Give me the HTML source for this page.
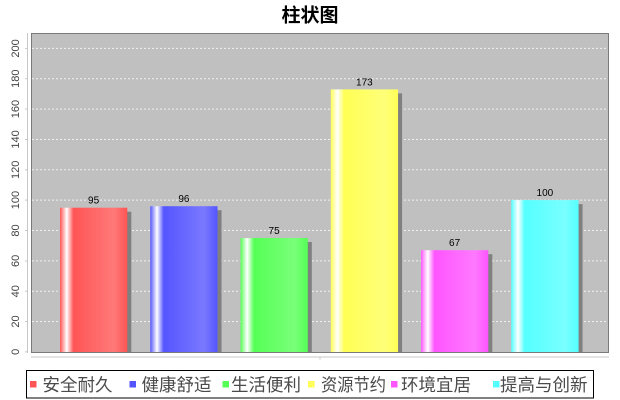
<!DOCTYPE html>
<html><head><meta charset="utf-8">
<style>
html,body{margin:0;padding:0;background:#fff;}
svg{display:block;}
</style></head>
<body>
<svg width="620" height="400" viewBox="0 0 620 400" xmlns="http://www.w3.org/2000/svg">
<defs>
<linearGradient id="g0" x1="0" x2="1" y1="0" y2="0"><stop offset="0" stop-color="#ff5555"/><stop offset="0.1" stop-color="#ffffff"/><stop offset="0.2" stop-color="#ff5555"/><stop offset="0.8" stop-color="#ff7979"/><stop offset="1" stop-color="#ff5555"/></linearGradient>
<linearGradient id="g1" x1="0" x2="1" y1="0" y2="0"><stop offset="0" stop-color="#5555ff"/><stop offset="0.1" stop-color="#ffffff"/><stop offset="0.2" stop-color="#5555ff"/><stop offset="0.8" stop-color="#7979ff"/><stop offset="1" stop-color="#5555ff"/></linearGradient>
<linearGradient id="g2" x1="0" x2="1" y1="0" y2="0"><stop offset="0" stop-color="#55ff55"/><stop offset="0.1" stop-color="#ffffff"/><stop offset="0.2" stop-color="#55ff55"/><stop offset="0.8" stop-color="#79ff79"/><stop offset="1" stop-color="#55ff55"/></linearGradient>
<linearGradient id="g3" x1="0" x2="1" y1="0" y2="0"><stop offset="0" stop-color="#ffff55"/><stop offset="0.1" stop-color="#ffffff"/><stop offset="0.2" stop-color="#ffff55"/><stop offset="0.8" stop-color="#ffff79"/><stop offset="1" stop-color="#ffff55"/></linearGradient>
<linearGradient id="g4" x1="0" x2="1" y1="0" y2="0"><stop offset="0" stop-color="#ff55ff"/><stop offset="0.1" stop-color="#ffffff"/><stop offset="0.2" stop-color="#ff55ff"/><stop offset="0.8" stop-color="#ff79ff"/><stop offset="1" stop-color="#ff55ff"/></linearGradient>
<linearGradient id="g5" x1="0" x2="1" y1="0" y2="0"><stop offset="0" stop-color="#55ffff"/><stop offset="0.1" stop-color="#ffffff"/><stop offset="0.2" stop-color="#55ffff"/><stop offset="0.8" stop-color="#79ffff"/><stop offset="1" stop-color="#55ffff"/></linearGradient>
</defs>

<!-- title -->
<text x="310" y="21.5" text-anchor="middle" font-family="'Liberation Sans','Noto Sans CJK SC',sans-serif" font-size="19" font-weight="bold" fill="#000">柱状图</text>

<!-- plot background -->
<rect x="31" y="33" width="578" height="320" fill="#c0c0c0"/>

<!-- gridlines -->
<g stroke="#f0f0f0" stroke-width="1" stroke-dasharray="2,2">
<line x1="32" x2="608" y1="321.5" y2="321.5"/>
<line x1="32" x2="608" y1="291.2" y2="291.2"/>
<line x1="32" x2="608" y1="260.9" y2="260.9"/>
<line x1="32" x2="608" y1="230.5" y2="230.5"/>
<line x1="32" x2="608" y1="200.1" y2="200.1"/>
<line x1="32" x2="608" y1="169.8" y2="169.8"/>
<line x1="32" x2="608" y1="139.5" y2="139.5"/>
<line x1="32" x2="608" y1="109.1" y2="109.1"/>
<line x1="32" x2="608" y1="78.7" y2="78.7"/>
<line x1="32" x2="608" y1="48.4" y2="48.4"/>
</g>

<!-- shadows -->
<g fill="#808080">
<rect x="64" y="211.7" width="67.3" height="140.8"/>
<rect x="154.25" y="210.2" width="67.3" height="142.3"/>
<rect x="244.5" y="242" width="67.3" height="110.5"/>
<rect x="334.75" y="93.4" width="67.3" height="259.1"/>
<rect x="425" y="254.2" width="67.3" height="98.3"/>
<rect x="515.25" y="204.1" width="67.3" height="148.4"/>
</g>

<!-- bars -->
<rect x="60" y="207.7" width="67.3" height="144.8" fill="url(#g0)"/>
<rect x="150.25" y="206.2" width="67.3" height="146.3" fill="url(#g1)"/>
<rect x="240.5" y="238" width="67.3" height="114.5" fill="url(#g2)"/>
<rect x="330.75" y="89.4" width="67.3" height="263.1" fill="url(#g3)"/>
<rect x="421" y="250.2" width="67.3" height="102.3" fill="url(#g4)"/>
<rect x="511.25" y="200.1" width="67.3" height="152.4" fill="url(#g5)"/>

<!-- plot border -->
<rect x="31.5" y="33.5" width="577" height="319" fill="none" stroke="#7a7a7a" stroke-width="1"/>

<!-- value labels -->
<g font-family="'Liberation Sans',sans-serif" font-size="10" fill="#000" text-anchor="middle">
<text x="93.6" y="203.7">95</text>
<text x="183.9" y="202.2">96</text>
<text x="274.1" y="234">75</text>
<text x="364.4" y="85.4">173</text>
<text x="454.6" y="246.2">67</text>
<text x="544.9" y="196.1">100</text>
</g>

<!-- y axis -->
<line x1="27.5" x2="27.5" y1="33" y2="353" stroke="#c8c8c8" stroke-width="1"/>
<g stroke="#c8c8c8" stroke-width="1">
<line x1="25" x2="27.5" y1="351.8" y2="351.8"/>
<line x1="25" x2="27.5" y1="321.5" y2="321.5"/>
<line x1="25" x2="27.5" y1="291.2" y2="291.2"/>
<line x1="25" x2="27.5" y1="260.9" y2="260.9"/>
<line x1="25" x2="27.5" y1="230.5" y2="230.5"/>
<line x1="25" x2="27.5" y1="200.1" y2="200.1"/>
<line x1="25" x2="27.5" y1="169.8" y2="169.8"/>
<line x1="25" x2="27.5" y1="139.5" y2="139.5"/>
<line x1="25" x2="27.5" y1="109.1" y2="109.1"/>
<line x1="25" x2="27.5" y1="78.7" y2="78.7"/>
<line x1="25" x2="27.5" y1="48.4" y2="48.4"/>
</g>
<g font-family="'Liberation Sans',sans-serif" font-size="11" fill="#444" text-anchor="middle">
<text transform="translate(19,351.8) rotate(-90)">0</text>
<text transform="translate(19,321.5) rotate(-90)">20</text>
<text transform="translate(19,291.2) rotate(-90)">40</text>
<text transform="translate(19,260.9) rotate(-90)">60</text>
<text transform="translate(19,230.5) rotate(-90)">80</text>
<text transform="translate(19,200.1) rotate(-90)">100</text>
<text transform="translate(19,169.8) rotate(-90)">120</text>
<text transform="translate(19,139.5) rotate(-90)">140</text>
<text transform="translate(19,109.1) rotate(-90)">160</text>
<text transform="translate(19,78.7) rotate(-90)">180</text>
<text transform="translate(19,48.4) rotate(-90)">200</text>
</g>

<!-- category axis -->
<line x1="31" x2="609" y1="357" y2="357" stroke="#c8c8c8" stroke-width="1"/>
<line x1="320" x2="320" y1="357" y2="359.5" stroke="#c8c8c8" stroke-width="1"/>

<!-- legend -->
<rect x="26.5" y="370.5" width="567" height="27.5" fill="#fff" stroke="#000" stroke-width="1"/>
<g>
<rect x="30" y="381" width="6.5" height="6.5" fill="#ff5555"/>
<rect x="129.5" y="381" width="6.5" height="6.5" fill="#5555ff"/>
<rect x="222.5" y="381" width="6.5" height="6.5" fill="#55ff55"/>
<rect x="308" y="381" width="6.5" height="6.5" fill="#ffff55"/>
<rect x="391" y="381" width="6.5" height="6.5" fill="#ff55ff"/>
<rect x="493" y="381" width="6.5" height="6.5" fill="#55ffff"/>
</g>
<g font-family="'Liberation Sans','Noto Sans CJK SC',sans-serif" font-size="17.5" fill="#4a4a4a">
<text x="42.5" y="391">安全耐久</text>
<text x="141.5" y="391">健康舒适</text>
<text x="231" y="391">生活便利</text>
<text x="321" y="391" textLength="65" lengthAdjust="spacingAndGlyphs">资源节约</text>
<text x="401" y="391">环境宜居</text>
<text x="500" y="391">提高与创新</text>
</g>
</svg>
</body></html>
